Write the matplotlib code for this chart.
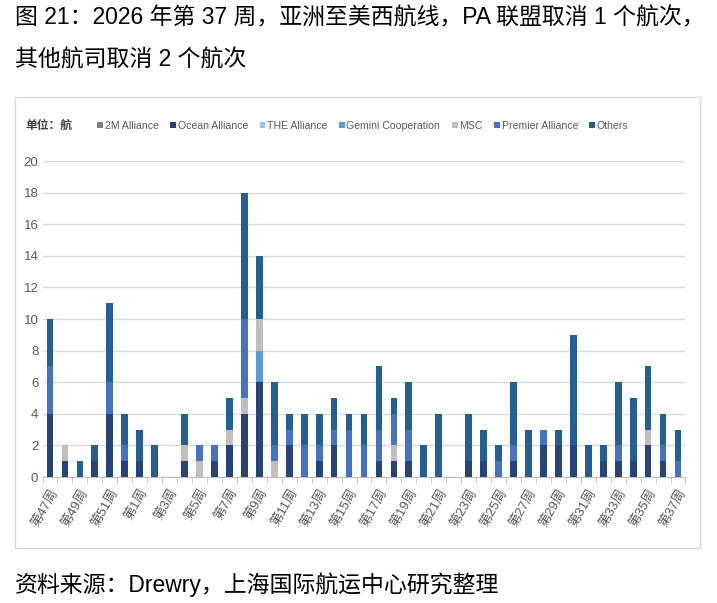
import matplotlib
matplotlib.use('Agg')
from matplotlib import pyplot as plt
from matplotlib.patches import Patch, Rectangle
import numpy as np

plt.rcParams['font.family'] = ['Liberation Sans', 'Noto Sans CJK SC', 'DejaVu Sans']
cjk = ['Liberation Sans', 'Noto Sans CJK SC', 'DejaVu Sans']

# week numbers: 2025 w47 .. 2026 w37
weeks = [47, 48, 49, 50, 51, 52] + list(range(1, 38))
week_labels = ['第%d周' % w for w in weeks]

series_names = ['2M Alliance', 'Ocean Alliance', 'THE Alliance', 'Gemini Cooperation',
                'MSC', 'Premier Alliance', 'Others']

alliance_2m = [0] * 43
ocean = [4, 1, 0, 1, 4, 1, 1, 0, 0, 1, 0, 1, 2, 4, 6, 0, 2, 0, 1, 2, 0, 0,
         1, 1, 1, 0, 0, 0, 1, 1, 0, 1, 0, 2, 2, 2, 0, 1, 1, 1, 2, 1, 0]
the_alliance = [0] * 43
gemini = [0, 0, 0, 0, 0, 0, 0, 0, 0, 0, 0, 0, 0, 0, 2, 0, 0, 0, 0, 0, 0, 0,
          0, 0, 0, 0, 0, 0, 0, 0, 0, 0, 0, 0, 0, 0, 0, 0, 0, 0, 0, 0, 0]
msc = [0, 1, 0, 0, 0, 0, 0, 0, 0, 1, 1, 0, 1, 1, 2, 1, 0, 0, 0, 0, 0, 0,
       0, 1, 0, 0, 0, 0, 0, 0, 0, 0, 0, 0, 0, 0, 0, 0, 0, 0, 1, 0, 0]
premier = [3, 0, 0, 0, 2, 1, 0, 0, 0, 0, 1, 1, 0, 5, 0, 1, 1, 2, 1, 1, 3, 2,
           2, 2, 2, 0, 0, 0, 0, 0, 1, 1, 0, 1, 0, 0, 0, 0, 1, 0, 0, 1, 1]
others = [3, 0, 1, 1, 5, 2, 2, 2, 0, 2, 0, 0, 2, 8, 4, 4, 1, 2, 2, 2, 1, 2,
          4, 1, 3, 2, 4, 0, 3, 2, 1, 4, 3, 0, 1, 7, 2, 1, 4, 4, 4, 2, 2]

colors = ['#7F7F7F', '#264478', '#9DC3E6', '#5B9BD5', '#BFBFBF', '#4472C4', '#255E91']
all_series = [alliance_2m, ocean, the_alliance, gemini, msc, premier, others]

W, H = 717, 603
fig = plt.figure(figsize=(W / 100, H / 100), dpi=100)

# chart frame
fig.patches.append(Rectangle((15 / W, 1 - 548 / H), 685 / W, 451 / H, fill=False,
                             edgecolor='#D9D9D9', linewidth=1, transform=fig.transFigure))

ax = fig.add_axes([42.5 / W, 1 - 477 / H, 643 / W, 316 / H])
x = np.arange(len(weeks))
bottom = np.zeros(len(weeks))
for name, vals, c in zip(series_names, all_series, colors):
    vals = np.array(vals, dtype=float)
    ax.bar(x, vals, 0.45, bottom=bottom, color=c, label=name, zorder=3)
    bottom += vals

ax.set_xlim(-0.5, len(weeks) - 0.5)
ax.set_ylim(0, 20)
ax.set_yticks(np.arange(0, 21, 2))
ax.grid(axis='y', color='#D9D9D9', linewidth=1, zorder=0)
for s in ['top', 'right', 'left']:
    ax.spines[s].set_visible(False)
ax.spines['bottom'].set_color('#BFBFBF')
ax.tick_params(axis='y', length=0, pad=3, labelsize=9.5, labelcolor='#595959')

ax.set_xticks(x[::2])
ax.set_xticklabels(week_labels[::2], rotation=60, ha='right', rotation_mode='anchor',
                   fontsize=9.5, color='#595959', family=cjk)
ax.tick_params(axis='x', length=0, pad=7)
ax.set_xticks(np.arange(-0.5, len(weeks), 1), minor=True)
ax.tick_params(axis='x', which='minor', length=4, color='#BFBFBF')

handles = [Patch(facecolor=c) for c in colors]
fig.legend(handles, series_names, loc='center', bbox_to_anchor=(363 / W, 1 - 126 / H),
           ncol=7, frameon=False, handlelength=0.55, handleheight=0.55,
           handletextpad=0.15, columnspacing=1.1,
           prop={'size': 7.6}, labelcolor='#595959')

fig.text(25 / W, 1 - 126 / H, '单位：航', fontsize=8.5, color='#404040',
         fontweight='bold', va='center', family=cjk)

fig.text(15 / W, 1 - 18 / H, '图 21：2026 年第 37 周，亚洲至美西航线，PA 联盟取消 1 个航次，',
         fontsize=16.5, va='center', ha='left', family=cjk)
fig.text(15 / W, 1 - 60 / H, '其他航司取消 2 个航次', fontsize=16.5, va='center', ha='left', family=cjk)
fig.text(15 / W, 1 - 585 / H, '资料来源：Drewry，上海国际航运中心研究整理', fontsize=16.5,
         va='center', ha='left', family=cjk)

fig.savefig('out.png', dpi=100)
